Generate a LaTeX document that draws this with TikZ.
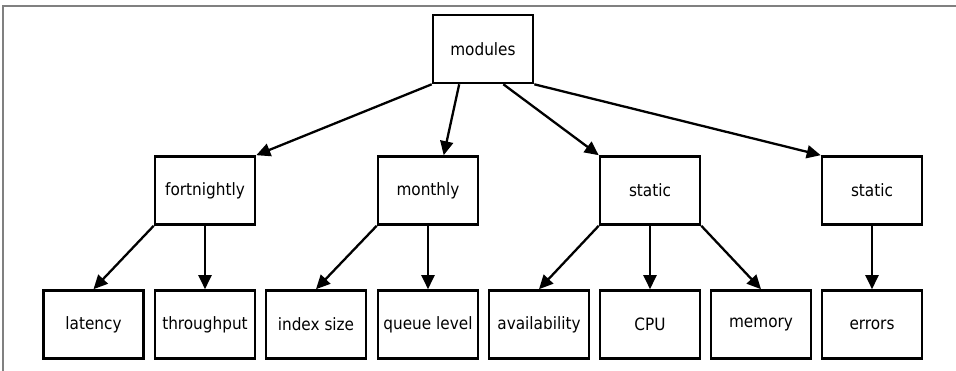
\documentclass[tikz,border=0pt]{standalone}
\usepackage{fontspec}
\setmainfont{DejaVu Sans Condensed}
\usepackage{tikz}
\usetikzlibrary{arrows.meta}
\tikzset{metric/.style={draw, line width=2.6pt, minimum width=100pt, minimum height=68pt, inner sep=0pt, font=\fontsize{17}{20}\selectfont}}
\tikzset{link/.style={line width=2.3pt, -{Triangle[length=14pt,width=13pt]}}}
\begin{document}
\begin{tikzpicture}[x=1pt,y=-1pt]
{
\useasboundingbox (0,0) rectangle (956,371);
\draw[gray, line width=1.5pt] (3,371) -- (3,6) -- (956,6);
\node[metric] (modules) at (483,49) {modules};
\node[metric] (fortnightly) at (205,190.5) {fortnightly};
\node[metric] (monthly) at (428,190.5) {monthly};
\node[metric] (static1) at (650,190.5) {static};
\node[metric] (static2) at (872,190.5) {static};
\node[metric] (latency) at (93.5,324.5) {latency};
\node[metric] (throughput) at (205,324.5) {throughput};
\node[metric] (indexsize) at (316,324.5) {index size};
\node[metric] (queuelevel) at (428,324.5) {queue level};
\node[metric] (availability) at (539,324.5) {availability};
\node[metric] (cpu) at (650,324.5) {CPU};
\node[metric] (memory) at (761,324.5) {memory};
\node[metric] (errors) at (872,324.5) {errors};
\draw[link] (modules.south west) -- (fortnightly.north east);
\draw[link] (modules.236) -- (monthly.66);
\draw[link] (modules.300) -- (static1.north west);
\draw[link] (modules.south east) -- (static2.north west);
\draw[link] (fortnightly.south west) -- (latency.north);
\draw[link] (fortnightly.south) -- (throughput.north);
\draw[link] (monthly.south west) -- (indexsize.north);
\draw[link] (monthly.south) -- (queuelevel.north);
\draw[link] (static1.south west) -- (availability.north);
\draw[link] (static1.south) -- (cpu.north);
\draw[link] (static1.south east) -- (memory.north);
\draw[link] (static2.south) -- (errors.north);
}
\end{tikzpicture}
\end{document}
